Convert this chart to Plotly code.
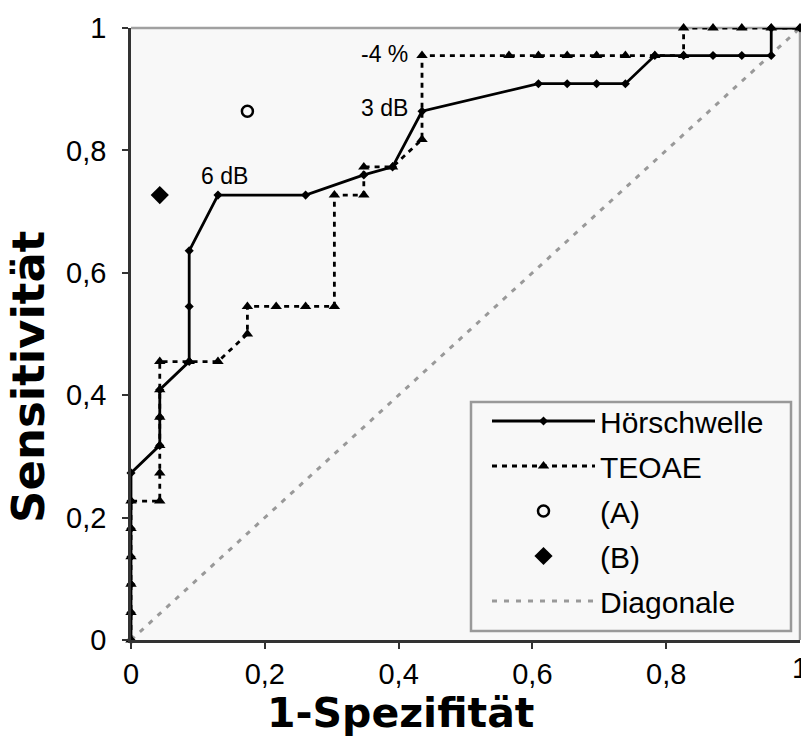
import plotly.graph_objects as go

# ---- data ----
hs_x = [0, 0, 0, 0, 0, 0, 0, 0.043, 0.043, 0.043, 0.087, 0.087, 0.087, 0.130, 0.261,
        0.348, 0.391, 0.435, 0.609, 0.652, 0.696, 0.739, 0.783, 0.826, 0.870, 0.913,
        0.957, 0.957, 1.0]
hs_y = [0, 0.045, 0.091, 0.136, 0.182, 0.227, 0.273, 0.318, 0.364, 0.409, 0.455, 0.545,
        0.636, 0.727, 0.727, 0.760, 0.773, 0.864, 0.909, 0.909, 0.909, 0.909, 0.955,
        0.955, 0.955, 0.955, 0.955, 1.0, 1.0]

te_x = [0, 0, 0, 0, 0, 0, 0.043, 0.043, 0.043, 0.043, 0.043, 0.043, 0.087, 0.130, 0.174,
        0.174, 0.217, 0.261, 0.304, 0.304, 0.348, 0.348, 0.391, 0.435, 0.435, 0.565,
        0.609, 0.652, 0.696, 0.739, 0.783, 0.826, 0.826, 0.870, 0.913, 0.957, 1.0]
te_y = [0, 0.045, 0.091, 0.136, 0.182, 0.227, 0.227, 0.273, 0.318, 0.364, 0.409, 0.455,
        0.455, 0.455, 0.500, 0.545, 0.545, 0.545, 0.545, 0.727, 0.727, 0.773, 0.773,
        0.818, 0.955, 0.955, 0.955, 0.955, 0.955, 0.955, 0.955, 0.955, 1.0, 1.0, 1.0,
        1.0, 1.0]

a_x, a_y = [0.174], [0.864]
b_x, b_y = [0.043], [0.727]
diag_x, diag_y = [0, 1], [0, 1]

x_ticks = [0, 0.2, 0.4, 0.6, 0.8, 1]
x_ticktext = ["0", "0,2", "0,4", "0,6", "0,8", "1"]
y_ticks = [0, 0.2, 0.4, 0.6, 0.8, 1]
y_ticktext = ["0", "0,2", "0,4", "0,6", "0,8", "1"]

labels = [("6 dB", 0.130, 0.727), ("3 dB", 0.435, 0.864), ("-4 %", 0.435, 0.955)]
x_title = "1-Spezifität"
y_title = "Sensitivität"

FONT = "Liberation Sans, Arial, sans-serif"
TFONT = "DejaVu Sans, Liberation Sans, sans-serif"
TICK = 29

fig = go.Figure()

fig.add_trace(go.Scatter(x=diag_x, y=diag_y, mode="lines", name="Diagonale",
                         line=dict(color="#999999", width=3, dash="5px,7px"),
                         legendrank=5, legendgroup="e", cliponaxis=False))
fig.add_trace(go.Scatter(x=hs_x, y=hs_y, mode="lines+markers", name="Hörschwelle",
                         line=dict(color="black", width=2.8),
                         marker=dict(symbol="diamond", size=7, color="black"),
                         legendrank=1, legendgroup="a", cliponaxis=False))
fig.add_trace(go.Scatter(x=te_x, y=te_y, mode="lines+markers", name="TEOAE",
                         line=dict(color="black", width=2.8, dash="5px,5px"),
                         marker=dict(symbol="triangle-up", size=10, color="black"),
                         legendrank=2, legendgroup="b", cliponaxis=False))
fig.add_trace(go.Scatter(x=a_x, y=a_y, mode="markers", name="(A)",
                         marker=dict(symbol="circle-open", size=11, color="black",
                                     line=dict(width=2.5, color="black")),
                         legendrank=3, legendgroup="c", cliponaxis=False))
fig.add_trace(go.Scatter(x=b_x, y=b_y, mode="markers", name="(B)",
                         marker=dict(symbol="diamond", size=14, color="black"),
                         legendrank=4, legendgroup="d", cliponaxis=False))

W, H = 801, 755
L, R, T, B = 131, 800, 28, 640
pw, ph = R - L, B - T

def px(x):
    return (x - L) / pw

def py(y):
    return (B - y) / ph

ann = []
ann.append(dict(x=labels[0][1], y=labels[0][2], text=labels[0][0], showarrow=False,
                xanchor="center", yanchor="bottom", xshift=7, yshift=4))
ann.append(dict(x=labels[1][1], y=labels[1][2], text=labels[1][0], showarrow=False,
                xanchor="right", yanchor="middle", xshift=-12, yshift=3))
ann.append(dict(x=labels[2][1], y=labels[2][2], text=labels[2][0], showarrow=False,
                xanchor="right", yanchor="middle", xshift=-12, yshift=2))
for a in ann:
    a["font"] = dict(family=FONT, size=23, color="black")

# the "1" tick label at the right edge (partly cut off like in the original)
ann.append(dict(xref="paper", yref="paper", x=1, y=py(668), text=x_ticktext[-1],
                showarrow=False, xanchor="center", yanchor="middle",
                font=dict(family=FONT, size=TICK, color="black")))
# axis titles, centred on the figure
ann.append(dict(xref="paper", yref="paper", x=px(400), y=py(713), text="<b>%s</b>" % x_title,
                showarrow=False, xanchor="center", yanchor="middle",
                font=dict(family=TFONT, size=41, color="black")))
ann.append(dict(xref="paper", yref="paper", x=px(28), y=py(377), text="<b>%s</b>" % y_title,
                showarrow=False, xanchor="center", yanchor="middle", textangle=-90,
                font=dict(family=TFONT, size=45, color="black")))

shapes = [
    dict(type="line", xref="paper", yref="paper", x0=0, x1=1, y0=1, y1=1,
         line=dict(color="#a0a0a0", width=2.5), layer="below"),
    dict(type="line", xref="paper", yref="paper", x0=1, x1=1, y0=0, y1=1,
         line=dict(color="#a0a0a0", width=2.5), layer="below"),
    dict(type="rect", xref="paper", yref="paper", x0=px(471), x1=px(791),
         y0=py(631), y1=py(402), line=dict(color="#999999", width=2.5),
         fillcolor="#f8f8f8", layer="above"),
]

fig.update_layout(
    width=W, height=H,
    margin=dict(l=L, r=W - R, t=T, b=H - B),
    paper_bgcolor="white", plot_bgcolor="#f8f8f8",
    font=dict(family=FONT, color="black"),
    showlegend=True,
    legend=dict(x=px(487), y=py(395), xanchor="left", yanchor="top",
                bgcolor="rgba(0,0,0,0)", borderwidth=0,
                font=dict(family=FONT, size=30, color="black"),
                itemwidth=103, tracegroupgap=3, traceorder="grouped"),
    annotations=ann, shapes=shapes,
)
fig.update_xaxes(range=[0, 1], tickvals=x_ticks[:-1], ticktext=x_ticktext[:-1],
                 showgrid=False, zeroline=False, showline=True, linecolor="#333333",
                 linewidth=2.5, ticks="outside", ticklen=6, tickwidth=1.5, tickcolor="#333333",
                 tickfont=dict(family=FONT, size=TICK, color="black"))
fig.update_yaxes(range=[0, 1], tickvals=y_ticks, ticktext=y_ticktext,
                 showgrid=False, zeroline=False, showline=True, linecolor="#333333",
                 linewidth=2.5, ticks="outside", ticklen=6, tickwidth=1.5, tickcolor="#333333",
                 tickfont=dict(family=FONT, size=TICK, color="black"),
                 ticklabelstandoff=10)

fig.write_html("out.html")
